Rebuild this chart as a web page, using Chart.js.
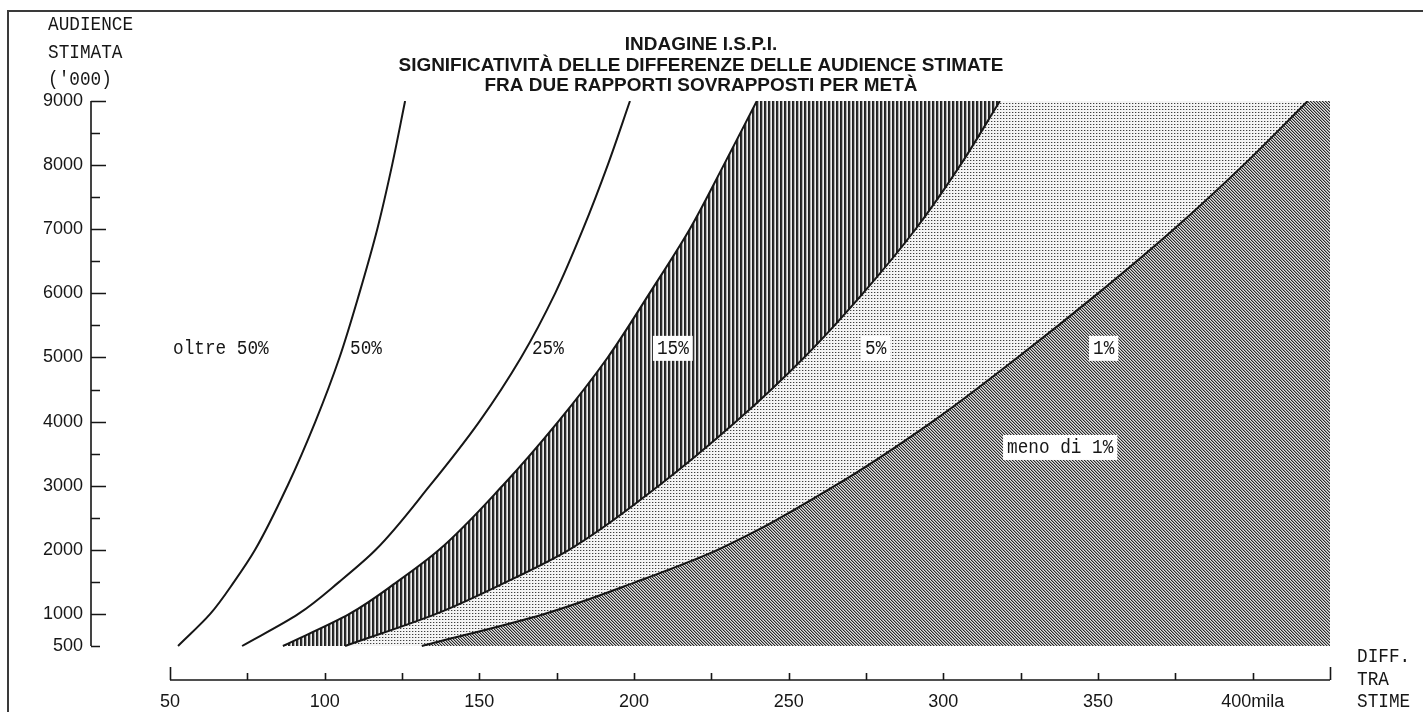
<!DOCTYPE html>
<html>
<head>
<meta charset="utf-8">
<script src="https://cdn.jsdelivr.net/npm/chart.js@4.4.1/dist/chart.umd.min.js"></script>
<style>
  html, body { margin: 0; padding: 0; background: #ffffff; }
  #wrap { width: 1423px; height: 712px; position: relative; }
  canvas { display: block; }
</style>
</head>
<body>
<div id="wrap"><canvas id="c" width="1423" height="712"></canvas></div>
<script>
// ---------------- DATA ----------------
// Audience levels ('000) at which the boundary curves were read
const audienceLevels = [500, 1000, 1500, 2000, 3000, 4000, 5000, 6000, 7000, 8000, 9000];
// Difference between estimates (thousands) at each audience level, per significance boundary
const diff50 = [52.6, 63.0, 70.7, 77.5, 88.0, 97.0, 104.8, 111.2, 117.0, 121.8, 126.0];
const diff25 = [73.3, 91.5, 104.7, 116.5, 134.0, 150.0, 163.5, 174.5, 183.5, 191.5, 198.7];
const diff15 = [86.5, 108.0, 123.4, 137.0, 157.5, 175.5, 191.5, 205.0, 218.0, 229.0, 239.7];
const diff5  = [106.6, 136.0, 158.8, 179.0, 208.0, 233.0, 255.0, 274.0, 291.0, 305.5, 318.3];
const diff1  = [131.4, 171.0, 200.7, 227.0, 265.0, 296.5, 324.0, 350.0, 374.5, 397.0, 417.8];
// right-hand limit of the shaded field
const diffMax = 425;

// Tick labels
const yTickValues = [500, 1000, 2000, 3000, 4000, 5000, 6000, 7000, 8000, 9000];
const xTickValues = [50, 100, 150, 200, 250, 300, 350, 400];
const xTickLabels = ['50', '100', '150', '200', '250', '300', '350', '400mila'];

// Texts
const titleLines = ['INDAGINE I.S.P.I.', 'SIGNIFICATIVITÀ DELLE DIFFERENZE DELLE AUDIENCE STIMATE', 'FRA DUE RAPPORTI SOVRAPPOSTI PER METÀ'];
const yTitleLines = ['AUDIENCE', 'STIMATA', "('000)"];
const xTitleLines = ['DIFF.', 'TRA', 'STIME'];
const regionLabelTexts = ['oltre 50%', '50%', '25%', '15%', '5%', '1%', 'meno di 1%'];
const regionLabelDiff  = [51, 108.2, 167, 207.4, 274.7, 348.4, 320.6];
const regionLabelAud   = [5150, 5150, 5150, 5150, 5150, 5150, 3604];
const regionLabelBoxed = [false, false, false, true, true, true, true];

// ---------------- PATTERNS ----------------
function makeTile(w, h, painter) {
  const c = document.createElement('canvas');
  c.width = w; c.height = h;
  const g = c.getContext('2d');
  painter(g, w, h);
  return g.createPattern(c, 'repeat');
}
const vertHatch = makeTile(4, 4, (g) => {
  const cols = ['#202020', '#303030', '#b0b0b0', '#f0f0f0'];
  for (let x = 0; x < 4; x++) { g.fillStyle = cols[x]; g.fillRect(x, 0, 1, 4); }
});
const dotted = makeTile(3, 3, (g) => {
  g.fillStyle = '#f4f4f4'; g.fillRect(0, 0, 3, 3);
  g.fillStyle = '#404040'; g.fillRect(1, 1, 1, 1);
  g.fillStyle = '#bbbbbb'; g.fillRect(2, 1, 1, 1);
});
const diagHatch = makeTile(3, 3, (g) => {
  for (let y = 0; y < 3; y++) for (let x = 0; x < 3; x++) {
    const d = ((x - y) % 3 + 3) % 3;
    g.fillStyle = d === 0 ? '#2a2a2a' : (d === 1 ? '#9a9a9a' : '#e0e0e0');
    g.fillRect(x, y, 1, 1);
  }
});

function series(xs) { return xs.map((v, i) => ({ x: v, y: audienceLevels[i] })); }

const INK = '#161616';
const MONO = '20px "Liberation Mono", "DejaVu Sans Mono", monospace';

// ---------------- DECORATION PLUGIN ----------------
const decor = {
  id: 'decor',
  afterDraw(chart) {
    const ctx = chart.ctx;
    const xs = chart.scales.x, ys = chart.scales.y;
    const area = chart.chartArea;
    ctx.save();
    // page frame
    ctx.strokeStyle = '#3a3a3a';
    ctx.lineWidth = 2;
    ctx.beginPath();
    ctx.moveTo(8, 712); ctx.lineTo(8, 11); ctx.lineTo(1423, 11);
    ctx.stroke();

    // title
    ctx.fillStyle = INK;
    ctx.font = 'bold 19px "Liberation Sans", Arial, sans-serif';
    ctx.textBaseline = 'middle';
    ctx.textAlign = 'center';
    const tsx = 605 / ctx.measureText(titleLines[1]).width;
    const titleY = [45, 66, 86];
    titleLines.forEach((t, i) => {
      ctx.save(); ctx.translate(701, titleY[i]); ctx.scale(tsx, 1); ctx.fillText(t, 0, 0); ctx.restore();
    });

    // mono texts
    ctx.font = MONO;
    ctx.textAlign = 'left';
    const msx = 85 / ctx.measureText('AUDIENCE').width;
    const mono = (t, x, y) => { ctx.save(); ctx.translate(x, y); ctx.scale(msx, 1); ctx.fillText(t, 0, 0); ctx.restore(); };
    const monoW = (t) => ctx.measureText(t).width * msx;
    [25, 53, 80].forEach((y, i) => mono(yTitleLines[i], 48, y));
    [657, 680, 702].forEach((y, i) => mono(xTitleLines[i], 1357, y));

    // y axis line and ticks (500 .. 9000)
    ctx.strokeStyle = INK;
    ctx.lineWidth = 1.6;
    const ax = area.left;
    ctx.beginPath();
    ctx.moveTo(ax, ys.getPixelForValue(yTickValues[yTickValues.length - 1]));
    ctx.lineTo(ax, ys.getPixelForValue(yTickValues[0]));
    for (let v = yTickValues[0]; v <= yTickValues[yTickValues.length - 1]; v += 500) {
      const py = Math.round(ys.getPixelForValue(v)) + 0.5;
      const len = (v % 1000 === 0) ? 15 : 9;
      ctx.moveTo(ax, py); ctx.lineTo(ax + len, py);
    }
    ctx.stroke();

    // x axis line and ticks (50 .. 425)
    const by = area.bottom;
    const x0 = xs.getPixelForValue(xTickValues[0]);
    const x1 = xs.getPixelForValue(diffMax);
    ctx.beginPath();
    ctx.moveTo(x0, by); ctx.lineTo(x1, by);
    for (let v = xTickValues[0]; v <= diffMax; v += 25) {
      const px = Math.round(xs.getPixelForValue(v)) + 0.5;
      const len = (v === xTickValues[0] || v === diffMax) ? 13 : 7;
      ctx.moveTo(px, by); ctx.lineTo(px, by - len);
    }
    ctx.stroke();

    // region labels
    regionLabelTexts.forEach((t, i) => {
      const px = xs.getPixelForValue(regionLabelDiff[i]);
      const py = ys.getPixelForValue(regionLabelAud[i]);
      const w = monoW(t);
      if (regionLabelBoxed[i]) {
        ctx.fillStyle = '#ffffff';
        ctx.fillRect(px - 4, py - 12, w + 8, 25);
      }
      ctx.fillStyle = INK;
      mono(t, px, py + 1);
    });
    ctx.restore();
  }
};

// ---------------- CHART ----------------
const lineStyle = { borderColor: INK, borderWidth: 2, pointRadius: 0, cubicInterpolationMode: 'monotone' };

new Chart(document.getElementById('c'), {
  type: 'line',
  data: {
    datasets: [
      Object.assign({ label: '50%', data: series(diff50), fill: false }, lineStyle),
      Object.assign({ label: '25%', data: series(diff25), fill: false }, lineStyle),
      Object.assign({ label: '15%', data: series(diff15), fill: '+1', backgroundColor: vertHatch }, lineStyle),
      Object.assign({ label: '5%', data: series(diff5), fill: '+1', backgroundColor: dotted }, lineStyle),
      Object.assign({ label: '1%', data: series(diff1), fill: '+1', backgroundColor: diagHatch }, lineStyle),
      { label: 'limite', data: [{ x: diffMax, y: audienceLevels[0] }, { x: diffMax, y: audienceLevels[audienceLevels.length - 1] }],
        fill: false, borderWidth: 0, borderColor: 'rgba(0,0,0,0)', pointRadius: 0 }
    ]
  },
  options: {
    indexAxis: 'y',
    responsive: false,
    devicePixelRatio: 1,
    animation: false,
    events: [],
    layout: { padding: { left: 0, top: 101, right: 93, bottom: 0 } },
    plugins: {
      legend: { display: false },
      tooltip: { enabled: false },
      title: { display: false },
      filler: { drawTime: 'beforeDatasetsDraw' }
    },
    scales: {
      x: {
        type: 'linear', position: 'bottom',
        min: 24.46, max: diffMax,
        grid: { display: false, drawTicks: false },
        border: { display: false },
        afterBuildTicks: (s) => { s.ticks = xTickValues.map(v => ({ value: v })); },
        afterFit: (s) => { s.height = 32; },
        ticks: {
          autoSkip: false, maxRotation: 0, padding: 11, color: INK,
          font: { family: '"Liberation Sans", Arial, sans-serif', size: 18 },
          callback: (v) => xTickLabels[xTickValues.indexOf(v)]
        }
      },
      y: {
        type: 'linear', position: 'left',
        min: -30.3, max: 9000,
        grid: { display: false, drawTicks: false },
        border: { display: false },
        afterBuildTicks: (s) => { s.ticks = yTickValues.map(v => ({ value: v })); },
        afterFit: (s) => { s.width = 91; },
        ticks: {
          autoSkip: false, padding: 8, color: INK,
          font: { family: '"Liberation Sans", Arial, sans-serif', size: 18 },
          callback: (v) => String(v)
        }
      }
    }
  },
  plugins: [decor]
});
</script>
</body>
</html>
